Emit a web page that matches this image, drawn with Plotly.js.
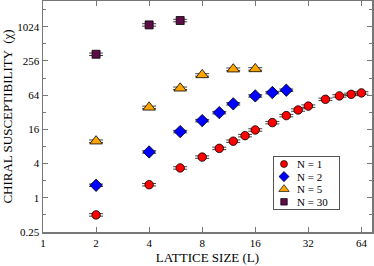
<!DOCTYPE html>
<html><head><meta charset="utf-8">
<script src="https://cdn.plot.ly/plotly-3.0.1.min.js"></script>
<style>html,body{margin:0;padding:0;background:#fff}#c{width:374px;height:266px}</style>
</head><body><div id="c"></div>
<script>
const L1 = [2,4,6,8,10,12,14,16,20,24,28,32,40,48,56,64];
const chi1 = [0.50,1.70,3.35,5.2,7.4,9.9,12.4,15.6,21,27.9,35,41,54,62,66,70];
const L2 = [2,4,6,8,10,12,16,20,24];
const chi2 = [1.66,6.4,14.6,22.8,31.5,45,62,71,78];
const L5 = [2,4,6,8,12,16];
const chi5 = [9.9,39,84.5,145,183,185];
const L30 = [2,4,6];
const chi30 = [335,1100,1313];
const xTicks = [1,2,4,8,16,32,64];
const yTicks = [0.25,1,4,16,64,256,1024];
const yTickText = ['0.25','1','4','16','64','256','1024'];
const yMinor = [0.5,2,8,32,128,512,2048];

const font = 'Liberation Serif, Times New Roman, serif';
function tr(x,y,name,sym,col,size){
  return {x:x,y:y,name:name,type:'scatter',mode:'markers',
    marker:{symbol:sym,color:col,size:size,line:{color:'#000',width:0.8}},
    error_y:{type:'percent',value:5,color:'#444',thickness:1,width:7}};
}
const data = [
  tr(L1,chi1,'N = 1','circle','#ff0000',8.5),
  tr(L2,chi2,'N = 2','diamond','#0000ff',9.5),
  tr(L5,chi5,'N = 5','triangle-up','#ffa500',11),
  tr(L30,chi30,'N = 30','square','#5e0c45',8)
];
const axisCommon = {showline:true,linecolor:'#777',linewidth:1.5,mirror:'ticks',
  ticks:'inside',ticklen:5,tickcolor:'#777',tickwidth:1,showgrid:false,zeroline:false,
  tickfont:{family:font,size:11,color:'#000'}};
const layout = {
  width:374,height:266,margin:{l:43,r:2,t:1,b:34},
  paper_bgcolor:'#fff',plot_bgcolor:'#fff',
  font:{family:font,color:'#000'},
  showlegend:true,
  legend:{x:0.699,y:0.328,xanchor:'left',yanchor:'top',bgcolor:'#fff',
    bordercolor:'#555',borderwidth:1,font:{family:font,size:11},tracegroupgap:0},
  xaxis:Object.assign({},axisCommon,{type:'log',range:[0,Math.log10(73.5)],
    tickmode:'array',tickvals:xTicks,ticktext:xTicks.map(String),
    title:{text:'LATTICE SIZE (L)',font:{family:font,size:13},standoff:5}}),
  yaxis:Object.assign({},axisCommon,{type:'log',range:[Math.log10(0.25),Math.log10(Math.pow(2,11.5))],
    tickmode:'array',tickvals:yTicks,ticktext:yTickText,
    minor:{tickmode:'array',tickvals:yMinor,ticks:'inside',ticklen:3,tickcolor:'#777'},
    title:{text:'CHIRAL SUSCEPTIBILITY  (χ)',font:{family:font,size:13},standoff:1}})
};
Plotly.newPlot('c',data,layout,{staticPlot:true}).then(function(gd){
  // compact the legend to match the reference box
  const leg = gd.querySelector('.legend');
  if(!leg) return;
  leg.setAttribute('transform','translate(273,156)');
  const bg = leg.querySelector('rect.bg');
  if(bg){bg.setAttribute('width',66);bg.setAttribute('height',53);bg.setAttribute('x',0.5);bg.setAttribute('y',0.5);}
  const sb = leg.querySelector('.scrollbox');
  if(sb) sb.setAttribute('transform','translate(0,0)');
  gd.querySelectorAll('defs clipPath rect').forEach(function(r){ if(r.parentNode.id && r.parentNode.id.indexOf('legend')>=0){r.setAttribute('width',70);r.setAttribute('height',60);r.setAttribute('x',0);r.setAttribute('y',0);} });
  const groups = leg.querySelector('.groups');
  if(groups) groups.setAttribute('transform','translate(0,0)');
  leg.querySelectorAll('.traces').forEach(function(t,i){
    t.setAttribute('transform','translate(0,'+(8+12.6*i)+')');
    const txt = t.querySelector('.legendtext');
    if(txt){txt.setAttribute('x',24);}
    t.querySelectorAll('.legendpoints path').forEach(function(p){p.setAttribute('transform','translate(11,0) scale(0.82)');});
  });
});
</script></body></html>
